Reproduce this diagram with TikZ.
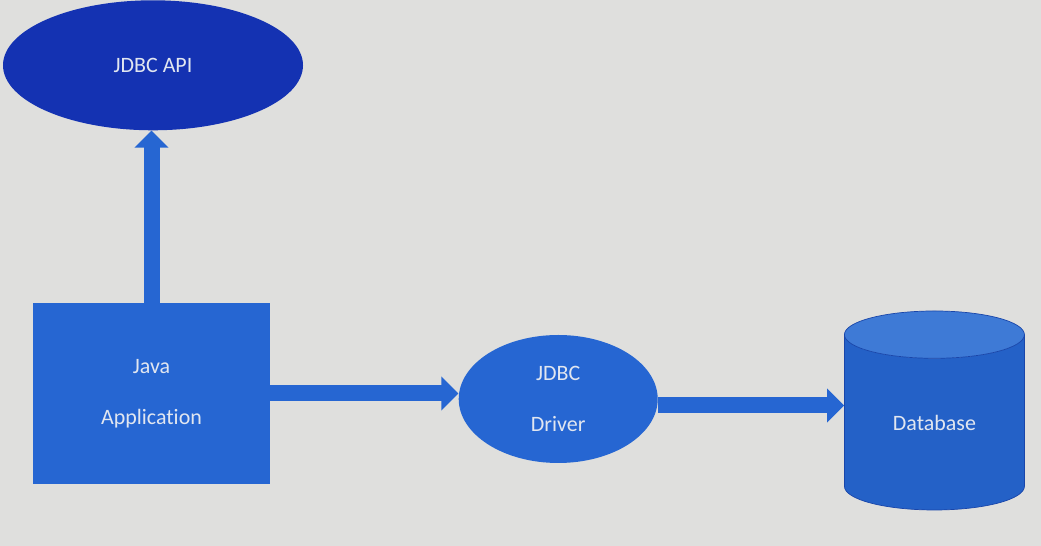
\documentclass[tikz,border=0pt]{standalone}
\usepackage{fontspec}
\setmainfont[Ligatures={NoCommon,NoRequired,NoContextual}]{Carlito}
\usepackage{tikz}
\usetikzlibrary{shapes,arrows,positioning,calc,shapes.geometric,arrows.meta}
\definecolor{screenbg}{RGB}{223,223,221}
\definecolor{apiblue}{RGB}{20,50,178}
\definecolor{midblue}{RGB}{38,102,210}
\definecolor{dbtop}{RGB}{62,122,214}
\definecolor{dbline}{RGB}{25,70,170}
\definecolor{labelfg}{RGB}{225,230,240}

\begin{document}
\begin{tikzpicture}[
  font=\fontsize{12.5}{15}\selectfont,
  api/.style={ellipse, fill=apiblue, minimum width=6.0cm, minimum height=2.6cm,
              text=labelfg, inner sep=0pt},
  app/.style={rectangle, fill=midblue, minimum width=4.74cm, minimum height=3.62cm,
              text=labelfg, align=center, inner sep=0pt},
  drvshape/.style={ellipse, fill=midblue, minimum width=3.98cm, minimum height=2.56cm,
              text=labelfg, align=center, inner sep=0pt},
  dbshape/.style={cylinder, shape border rotate=90, aspect=0.57, draw=dbline, thin,
              cylinder uses custom fill, cylinder body fill=midblue!95!black,
              cylinder end fill=dbtop, minimum width=3.6cm, minimum height=3.98cm,
              text=labelfg, inner sep=0pt},
  ar/.style={-{Triangle[length=0.34cm,width=0.66cm]}, line width=0.32cm, draw=midblue}
]
% Screen background
\fill[screenbg] (0,0) rectangle (20.82,10.92);
\useasboundingbox (0,0) rectangle (20.82,10.92);

% Left column: application and API on top
\node[app]                         (java) at (3.03,3.05) {Java\\[0.5cm]Application};
\node[api, above=3.44cm of java, xshift=0.03cm] (api) {JDBC API};

% Middle and right: driver and database
\node[drvshape, right=3.76cm of java, yshift=-0.11cm] (drv) {JDBC\\[0.5cm]Driver};
\node[dbshape, right=3.72cm of drv, yshift=-0.47cm]   (db)  {Database};

% Arrows
\draw[ar] (java.north) -- (java.north |- api.south);
\draw[ar] (java.east) -- (java.east -| drv.west);
\draw[ar] ([yshift=-0.13cm]drv.east) -- ([yshift=-0.13cm]drv.east -| db.west);
\end{tikzpicture}
\end{document}
